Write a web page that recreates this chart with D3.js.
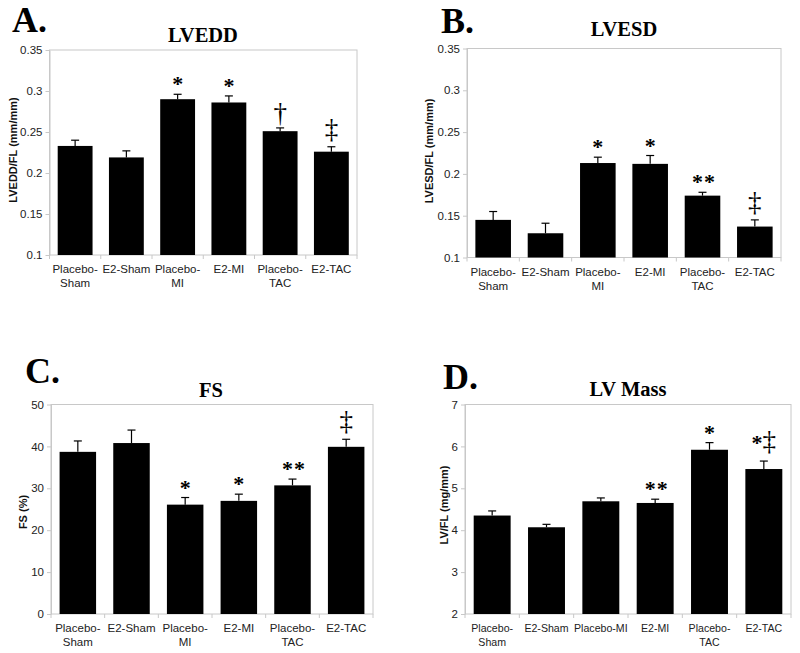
<!DOCTYPE html>
<html><head><meta charset="utf-8">
<script src="https://cdn.jsdelivr.net/npm/d3@7"></script>
<style>body{margin:0;background:#fff;} svg{display:block;}</style>
</head><body><svg id="c" width="800" height="653"></svg>
<script>
// ---------- data ----------
const categories = ["Placebo-Sham","E2-Sham","Placebo-MI","E2-MI","Placebo-TAC","E2-TAC"];
const xLabelsABC = [["Placebo-","Sham"],["E2-Sham"],["Placebo-","MI"],["E2-MI"],["Placebo-","TAC"],["E2-TAC"]];
const xLabelsD   = [["Placebo-","Sham"],["E2-Sham"],["Placebo-MI"],["E2-MI"],["Placebo-","TAC"],["E2-TAC"]];

const lveddMean  = [0.233, 0.219, 0.290, 0.286, 0.251, 0.226];
const lveddSem   = [0.007, 0.008, 0.006, 0.008, 0.004, 0.006];
const lveddMarks = ["", "", "*", "*", "†", "‡"];
const lveddTicks = ["0.1","0.15","0.2","0.25","0.3","0.35"];

const lvesdMean  = [0.145, 0.129, 0.213, 0.212, 0.174, 0.137];
const lvesdSem   = [0.010, 0.012, 0.007, 0.010, 0.004, 0.008];
const lvesdMarks = ["", "", "*", "*", "**", "‡"];
const lvesdTicks = ["0.1","0.15","0.2","0.25","0.3","0.35"];

const fsMean  = [38.7, 40.8, 26.1, 27.0, 30.7, 39.9];
const fsSem   = [2.6, 3.1, 1.7, 1.6, 1.5, 1.8];
const fsMarks = ["", "", "*", "*", "**", "‡"];
const fsTicks = ["0","10","20","30","40","50"];

const massMean  = [4.35, 4.07, 4.69, 4.65, 5.92, 5.46];
const massSem   = [0.11, 0.07, 0.08, 0.09, 0.17, 0.19];
const massMarks = ["", "", "", "**", "*", "*‡"];
const massTicks = ["2","3","4","5","6","7"];

// ---------- layout ----------
const panels = [
  {letter:"A.", lx:12, ly:32, title:"LVEDD", tx:203, ty:42, ylab:"LVEDD/FL (mm/mm)", yx:17, yy:150,
   x0:49.5, x1:357, y0:50, y1:255, mean:lveddMean, sem:lveddSem, marks:lveddMarks, ticks:lveddTicks, xl:xLabelsABC, xfs:11.5},
  {letter:"B.", lx:441, ly:33, title:"LVESD", tx:624, ty:36, ylab:"LVESD/FL (mm/mm)", yx:433, yy:151,
   x0:467, x1:781, y0:48.5, y1:257.5, mean:lvesdMean, sem:lvesdSem, marks:lvesdMarks, ticks:lvesdTicks, xl:xLabelsABC, xfs:11.5},
  {letter:"C.", lx:25, ly:383, title:"FS", tx:211, ty:397, ylab:"FS (%)", yx:27, yy:512,
   x0:51, x1:373, y0:404.5, y1:614, mean:fsMean, sem:fsSem, marks:fsMarks, ticks:fsTicks, xl:xLabelsABC, xfs:11.5},
  {letter:"D.", lx:443, ly:389, title:"LV Mass", tx:628, ty:396, ylab:"LV/FL (mg/mm)", yx:448, yy:505,
   x0:465, x1:791, y0:404.5, y1:614, mean:massMean, sem:massSem, marks:massMarks, ticks:massTicks, xl:xLabelsD, xfs:10.6}
];

const svg = d3.select("#c");
const gridCol = "#c8c8c8";
const sans = "'Liberation Sans', Arial, sans-serif";
const serif = "'Liberation Serif', 'Times New Roman', serif";

panels.forEach(p => {
  const g = svg.append("g");
  const tickVals = p.ticks.map(Number);
  const y = d3.scaleLinear().domain([tickVals[0], tickVals[tickVals.length-1]]).range([p.y1, p.y0]);
  const x = d3.scaleBand().domain(categories).range([p.x0, p.x1]).paddingInner(0.32).paddingOuter(0.16);

  // frame
  g.append("rect").attr("x", p.x0).attr("y", p.y0).attr("width", p.x1 - p.x0).attr("height", p.y1 - p.y0)
    .attr("fill", "none").attr("stroke", gridCol).attr("stroke-width", 1);

  // y axis
  const yAxis = d3.axisLeft(y).tickValues(tickVals).tickSize(4).tickSizeOuter(0)
    .tickFormat((d, i) => p.ticks[i]);
  const ya = g.append("g").attr("transform", `translate(${p.x0},0)`).call(yAxis);
  ya.select(".domain").attr("stroke", gridCol);
  ya.selectAll(".tick line").attr("stroke", gridCol);
  ya.selectAll(".tick text").attr("font-family", sans).attr("font-size", 11.5).attr("fill", "#222").attr("x", -7);

  // x axis ticks at band boundaries
  const step = x.step();
  const bounds = d3.range(categories.length + 1).map(i => p.x0 + i * step);
  g.selectAll("line.xt").data(bounds).join("line")
    .attr("x1", d => d).attr("x2", d => d).attr("y1", p.y1).attr("y2", p.y1 + 4)
    .attr("stroke", gridCol);

  // x labels
  categories.forEach((c, i) => {
    const t = g.append("text").attr("text-anchor", "middle").attr("font-family", sans)
      .attr("font-size", p.xfs).attr("fill", "#222");
    p.xl[i].forEach((line, j) => {
      t.append("tspan").attr("x", x(c) + x.bandwidth() / 2).attr("y", p.y1 + 18 + j * 14).text(line);
    });
  });

  // error bars (upper)
  categories.forEach((c, i) => {
    const cx = x(c) + x.bandwidth() / 2;
    const top = y(p.mean[i] + p.sem[i]);
    g.append("line").attr("x1", cx).attr("x2", cx).attr("y1", y(p.mean[i])).attr("y2", top)
      .attr("stroke", "#000").attr("stroke-width", 1.2);
    g.append("line").attr("x1", cx - 4).attr("x2", cx + 4).attr("y1", top).attr("y2", top)
      .attr("stroke", "#000").attr("stroke-width", 1.2);
  });

  // bars
  g.selectAll("rect.bar").data(p.mean).join("rect").attr("class", "bar")
    .attr("x", (d, i) => x(categories[i])).attr("width", x.bandwidth())
    .attr("y", d => y(d)).attr("height", d => p.y1 - y(d)).attr("fill", "#000");

  // significance markers
  categories.forEach((c, i) => {
    const m = p.marks[i];
    if (!m) return;
    const cx = x(c) + x.bandwidth() / 2;
    const top = y(p.mean[i] + p.sem[i]);
    let base = top - 3;
    if (m === "†") base = top - 6;
    if (m === "‡") base = top - 9;
    if (m === "*‡") base = top - 11;
    const t = g.append("text").attr("x", cx).attr("y", base)
      .attr("text-anchor", "middle").attr("font-family", serif).attr("fill", "#000");
    Array.from(m).forEach(ch => {
      const dag = (ch === "†" || ch === "‡");
      t.append("tspan").attr("font-size", dag ? 27 : 22).attr("font-weight", dag ? "normal" : "bold")
        .attr("dx", ch === "*" && m === "**" ? 1 : 0).text(ch);
    });
  });

  // titles, letters, axis label
  g.append("text").attr("x", p.lx).attr("y", p.ly).attr("font-family", serif).attr("font-weight", "bold")
    .attr("font-size", 36).text(p.letter);
  g.append("text").attr("x", p.tx).attr("y", p.ty).attr("text-anchor", "middle").attr("font-family", serif)
    .attr("font-weight", "bold").attr("font-size", 20.5).text(p.title);
  g.append("text").attr("transform", `translate(${p.yx},${p.yy}) rotate(-90)`).attr("text-anchor", "middle")
    .attr("font-family", sans).attr("font-weight", "bold").attr("font-size", 11).attr("fill", "#111").text(p.ylab);
});
</script>
</body></html>
